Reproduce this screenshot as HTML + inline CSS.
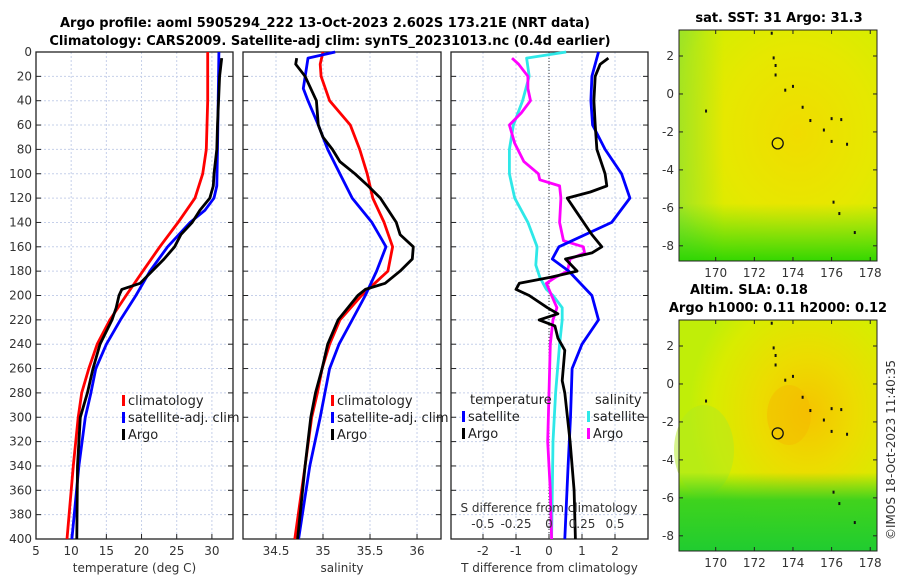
<!DOCTYPE html>
<html><head><meta charset="utf-8"><style>
body{margin:0;background:#fff;}
svg{display:block;font-family:"DejaVu Sans","Liberation Sans",sans-serif;}
.t{font-size:12px;fill:#333;}
.ti{font-size:13px;font-weight:bold;fill:#000;}
.lg{font-size:13px;fill:#222;}
</style></head><body>
<svg id="s" width="900" height="580" viewBox="0 0 900 580">
<defs>
<radialGradient id="g1" cx="0.6" cy="0.45" r="0.75">
<stop offset="0" stop-color="#f0dc00"/><stop offset="0.5" stop-color="#e6e800"/><stop offset="0.85" stop-color="#d4ee00"/><stop offset="1" stop-color="#b8ea10"/></radialGradient>
<linearGradient id="g1b" x1="0" y1="0" x2="0" y2="1"><stop offset="0.75" stop-color="#30d820" stop-opacity="0"/><stop offset="1" stop-color="#22d400" stop-opacity="0.9"/></linearGradient>
<linearGradient id="g1l" x1="0" y1="0" x2="1" y2="0"><stop offset="0" stop-color="#90e030" stop-opacity="0.7"/><stop offset="1" stop-color="#90e030" stop-opacity="0"/></linearGradient>
<radialGradient id="g2" cx="0.65" cy="0.4" r="0.6">
<stop offset="0" stop-color="#f5c400"/><stop offset="0.4" stop-color="#ecdc00"/><stop offset="0.8" stop-color="#d8ec00"/><stop offset="1" stop-color="#c0ee08"/></radialGradient>
<linearGradient id="g2b" x1="0" y1="0" x2="0" y2="1"><stop offset="0.66" stop-color="#30d020" stop-opacity="0"/><stop offset="0.78" stop-color="#30d020" stop-opacity="0.9"/><stop offset="1" stop-color="#20cc30"/></linearGradient>
</defs>
<text class="ti" x="325" y="27" text-anchor="middle">Argo profile: aoml 5905294_222 13-Oct-2023 2.602S 173.21E (NRT data)</text>
<text class="ti" x="330" y="45" text-anchor="middle">Climatology: CARS2009. Satellite-adj clim: synTS_20231013.nc (0.4d earlier)</text>
<g id="p1"></g>
<g id="p2"></g>
<g id="p3"></g>
<g id="m1"></g>
<g id="m2"></g>
<text class="ti" x="779" y="22" text-anchor="middle">sat. SST: 31 Argo: 31.3</text>
<text class="ti" x="749" y="294" text-anchor="middle">Altim. SLA: 0.18</text>
<text class="ti" x="778" y="312" text-anchor="middle">Argo h1000: 0.11 h2000: 0.12</text>
<text class="t" font-size="13" transform="translate(895,540) rotate(-90)">©IMOS 18-Oct-2023 11:40:35</text>
</svg>
<script>
// depth axis shared
const depthTicks=[0,20,40,60,80,100,120,140,160,180,200,220,240,260,280,300,320,340,360,380,400];
// temperature panel data
const tClimZ=[0,40,80,100,120,140,160,180,200,220,240,260,280,300,340,400];
const tClim=[29.4,29.4,29.2,28.7,27.6,25.2,22.6,20.2,17.8,15.5,13.7,12.5,11.5,11.0,10.3,9.4];
const tSatZ=[0,40,80,110,120,130,140,160,180,200,220,240,260,280,300,340,400];
const tSat=[31.0,30.9,30.8,30.7,30.3,29.0,26.9,23.7,21.2,19.2,17.0,15.0,13.5,12.8,12.0,11.1,10.1];
const tArgoZ=[5,20,60,80,100,110,120,130,140,150,160,170,180,190,195,200,210,220,240,260,280,300,340,400];
const tArgo=[31.4,31.1,30.8,30.7,30.3,30.2,29.7,28.3,27.2,25.6,24.7,23.2,21.5,19.8,17.2,16.8,16.4,15.8,14.1,13.1,12.3,11.3,10.9,10.8];
const tTicks=[5,10,15,20,25,30];
// salinity panel data
const sClimZ=[0,10,20,40,60,80,100,120,140,160,180,190,200,220,240,260,280,300,340,400];
const sClim=[35.0,34.97,34.98,35.07,35.29,35.39,35.47,35.53,35.65,35.74,35.69,35.55,35.41,35.18,35.07,34.99,34.94,34.88,34.81,34.7];
const sSatZ=[0,5,30,40,60,80,100,120,140,160,180,200,220,240,260,280,300,340,400];
const sSat=[35.13,34.84,34.79,34.84,34.95,35.05,35.18,35.31,35.52,35.67,35.57,35.45,35.31,35.17,35.07,35.02,34.97,34.86,34.74];
const sArgoZ=[5,10,20,40,60,70,80,90,100,110,120,140,150,160,170,180,190,195,200,220,240,260,280,300,340,400];
const sArgo=[34.72,34.71,34.81,34.93,34.95,35.0,35.1,35.18,35.34,35.48,35.61,35.78,35.82,35.96,35.95,35.82,35.66,35.45,35.37,35.16,35.05,34.99,34.92,34.87,34.81,34.73];
const sTicks=[34.5,35,35.5,36];
// difference panel data
const dTSatZ=[0,20,40,60,80,100,120,140,160,170,180,200,220,240,260,300,340,400];
const dTSat=[1.5,1.3,1.27,1.32,1.7,2.2,2.45,1.9,0.3,0.1,0.6,1.3,1.5,1.0,0.7,0.65,0.58,0.48];
const dTArgoZ=[5,10,20,40,60,80,100,110,115,120,130,150,160,165,170,180,185,190,195,200,210,215,220,225,235,245,270,280,320,360,400];
const dTArgo=[1.8,1.55,1.4,1.36,1.4,1.45,1.7,1.75,1.25,0.55,0.8,1.3,1.6,1.3,0.5,0.85,0.05,-0.9,-1.0,-0.6,-0.05,0.27,-0.3,0.18,0.27,0.48,0.4,0.48,0.64,0.76,0.8];
const dSSatZ=[0,5,20,40,60,80,100,120,140,160,175,185,195,200,210,220,240,280,320,400];
const dSSat=[0.13,-0.17,-0.15,-0.2,-0.27,-0.3,-0.3,-0.26,-0.16,-0.09,-0.1,-0.07,-0.02,0.03,0.1,0.1,0.08,0.05,0.03,0.02];
const dSArgoZ=[5,10,20,30,40,50,60,75,90,100,105,110,120,140,155,160,165,170,180,185,190,200,210,220,240,280,320,360,400];
const dSArgo=[-0.28,-0.23,-0.16,-0.16,-0.14,-0.21,-0.3,-0.26,-0.19,-0.08,-0.07,0.08,0.09,0.08,0.11,0.26,0.27,0.16,0.14,0.05,-0.02,0.02,0.06,0.03,0.01,0.0,-0.01,0.01,0.02];
const dTTicks=[-2,-1,0,1,2];
const dSTicks=[-0.5,-0.25,0,0.25,0.5];
const dSTickLabels=['-0.5','-0.25','0','0.25','0.5'];
// maps
const lonTicks=[170,172,174,176,178];
const latTicks=[2,0,-2,-4,-6,-8];
const argoLon=[173.21];
const argoLat=[-2.602];

const NS='http://www.w3.org/2000/svg';
function mk(tag,attrs,parent,text){const e=document.createElementNS(NS,tag);for(const k in attrs)e.setAttribute(k,attrs[k]);if(text!==undefined)e.textContent=text;parent.appendChild(e);return e;}
const Y0=52,Y1=539;
const yD=d=>Y0+(d/400)*(Y1-Y0);

function panel(g,x0,x1,xmin,xmax,ticks,labels,xlabel,showY){
  const xs=v=>x0+(v-xmin)/(xmax-xmin)*(x1-x0);
  for(const d of depthTicks){if(d===0||d===400)continue;
    const l=mk('line',{x1:x0,x2:x1,y1:yD(d),y2:yD(d),stroke:'#c6d0ea','stroke-width':1,'stroke-dasharray':'2,2'},g);
    
    }
  ticks.forEach((t,i)=>{const x=xs(t);
    const l=mk('line',{x1:x,x2:x,y1:Y0,y2:Y1,stroke:'#c6d0ea','stroke-width':1,'stroke-dasharray':'2,2'},g);
    
    
    mk('line',{x1:x,x2:x,y1:Y1,y2:Y1-5,stroke:'#222'},g);
    const tx=mk('text',{x:x,y:Y1+16,class:'t','text-anchor':'middle'},g,labels?labels[i]:String(t));
    
    });
  for(const d of depthTicks){mk('line',{x1:x0,x2:x0+5,y1:yD(d),y2:yD(d),stroke:'#222'},g);mk('line',{x1:x1,x2:x1-5,y1:yD(d),y2:yD(d),stroke:'#222'},g);
    if(showY){const tx=mk('text',{x:x0-4,y:yD(d)+4,class:'t','text-anchor':'end'},g,String(d));
      
      }}
  const r=mk('rect',{x:x0,y:Y0,width:x1-x0,height:Y1-Y0,fill:'none',stroke:'#222','stroke-width':1.3},g);
  
  
  const xl=mk('text',{x:(x0+x1)/2,y:Y1+33,class:'t','text-anchor':'middle','font-size':'13'},g,xlabel);
  
  
  return xs;
}
function line(g,xs,vals,zs,color,name){
  const pts=vals.map((v,i)=>xs(v).toFixed(1)+','+yD(zs[i]).toFixed(1)).join(' ');
  const p=mk('polyline',{points:pts,fill:'none',stroke:color,'stroke-width':2.8,'stroke-linejoin':'round'},g);
  
  
}
function legend(g,x,y,color,label){
  mk('rect',{x:x,y:y-10,width:3,height:11,fill:color},g);
  const t=mk('text',{x:x+6,y:y,class:'lg'},g,label);
  
  
}
const p1=document.getElementById('p1'),p2=document.getElementById('p2'),p3=document.getElementById('p3');
const x1s=panel(p1,36,233,5,33,tTicks,null,'temperature (deg C)',true);
line(p1,x1s,tClim,tClimZ,'#f00','temp-climatology-line');
line(p1,x1s,tSat,tSatZ,'#00f','temp-satellite-line');
line(p1,x1s,tArgo,tArgoZ,'#000','temp-argo-line');
legend(p1,122,405,'#f00','climatology');legend(p1,122,422,'#00f','satellite-adj. clim');legend(p1,122,439,'#000','Argo');

const x2s=panel(p2,243,441,34.149,36.255,sTicks,null,'salinity',false);
line(p2,x2s,sClim,sClimZ,'#f00','sal-climatology-line');
line(p2,x2s,sSat,sSatZ,'#00f','sal-satellite-line');
line(p2,x2s,sArgo,sArgoZ,'#000','sal-argo-line');
legend(p2,331,405,'#f00','climatology');legend(p2,331,422,'#00f','satellite-adj. clim');legend(p2,331,439,'#000','Argo');

const x3s=panel(p3,451,648,-2.97,3.0,dTTicks,null,'T difference from climatology',false);
const xSs=v=>549+v*132;
const zl=mk('line',{x1:x3s(0),x2:x3s(0),y1:Y0,y2:Y1,stroke:'#333','stroke-width':1,'stroke-dasharray':'1,2'},p3);


line(p3,xSs,dSSat,dSSatZ,'#2ee8e8','sal-diff-satellite-line');
line(p3,xSs,dSArgo,dSArgoZ,'#f0f','sal-diff-argo-line');
line(p3,x3s,dTSat,dTSatZ,'#00f','temp-diff-satellite-line');
line(p3,x3s,dTArgo,dTArgoZ,'#000','temp-diff-argo-line');
dSTicks.forEach((s,i)=>{const t=mk('text',{x:xSs(s),y:528,class:'t','text-anchor':'middle'},p3,dSTickLabels[i]);
  
  });
{const t=mk('text',{x:549,y:512,class:'t','text-anchor':'middle','font-size':'13'},p3,'S difference from climatology');
 
 }
{const t=mk('text',{x:470,y:404,class:'lg'},p3,'temperature');}
{const t=mk('text',{x:595,y:404,class:'lg'},p3,'salinity');}
legend(p3,462,421,'#00f','satellite');legend(p3,462,438,'#000','Argo');
legend(p3,587,421,'#2ee8e8','satellite');legend(p3,587,438,'#f0f','Argo');

function map(g,y0,y1,fill,overlay,extra){
  const X0=679,X1=877;
  const lon=v=>X0+(v-168.1)/(178.35-168.1)*(X1-X0);
  const lat=v=>y0+(3.37-v)/(3.37+8.8)*(y1-y0);
  const bg=mk('rect',{x:X0,y:y0,width:X1-X0,height:y1-y0,fill:'url(#'+fill+')'},g);
  
  
  extra(g,X0,y0,X1,y1);
  mk('rect',{x:X0,y:y0,width:X1-X0,height:y1-y0,fill:'url(#'+overlay+')'},g);
  const isl=[[172.9,3.2],[173.0,1.9],[173.1,1.5],[173.1,1.0],[173.6,0.2],[174.0,0.4],[174.5,-0.7],[174.9,-1.4],[175.6,-1.9],[176.0,-1.3],[176.5,-1.35],[176.0,-2.5],[176.8,-2.65],[169.5,-0.9],[176.1,-5.7],[176.4,-6.3],[177.2,-7.3]];
  for(const p of isl){mk('rect',{x:lon(p[0])-1,y:lat(p[1])-1.5,width:2,height:3,fill:'#111'},g);}
  const c=mk('circle',{cx:lon(argoLon[0]),cy:lat(argoLat[0]),r:5.5,fill:'none',stroke:'#111','stroke-width':1.3},g);
  
  
  mk('rect',{x:X0,y:y0,width:X1-X0,height:y1-y0,fill:'none',stroke:'#222','stroke-width':1},g);
  for(const t of lonTicks){const x=lon(t);mk('line',{x1:x,x2:x,y1:y1,y2:y1-4,stroke:'#222'},g);mk('line',{x1:x,x2:x,y1:y0,y2:y0+4,stroke:'#222'},g);
    const tx=mk('text',{x:x,y:y1+16,class:'t','text-anchor':'middle'},g,String(t));
    
    }
  for(const t of latTicks){const y=lat(t);mk('line',{x1:X0,x2:X0+4,y1:y,y2:y,stroke:'#222'},g);mk('line',{x1:X1,x2:X1-4,y1:y,y2:y,stroke:'#222'},g);
    const tx=mk('text',{x:X0-5,y:y+4,class:'t','text-anchor':'end'},g,String(t));
    
    }
}
map(document.getElementById('m1'),30,261,'g1','g1b',(g,X0,y0,X1,y1)=>{
  mk('rect',{x:X0,y:y0,width:45,height:y1-y0,fill:'url(#g1l)'},g);
});
map(document.getElementById('m2'),320,551,'g2','g2b',(g,X0,y0,X1,y1)=>{
  mk('ellipse',{cx:X0+25,cy:y0+130,rx:30,ry:45,fill:'#b0ea20',opacity:0.5},g);
  mk('ellipse',{cx:X0+110,cy:y0+95,rx:22,ry:30,fill:'#f3b800',opacity:0.45},g);
});
</script>
</body></html>
